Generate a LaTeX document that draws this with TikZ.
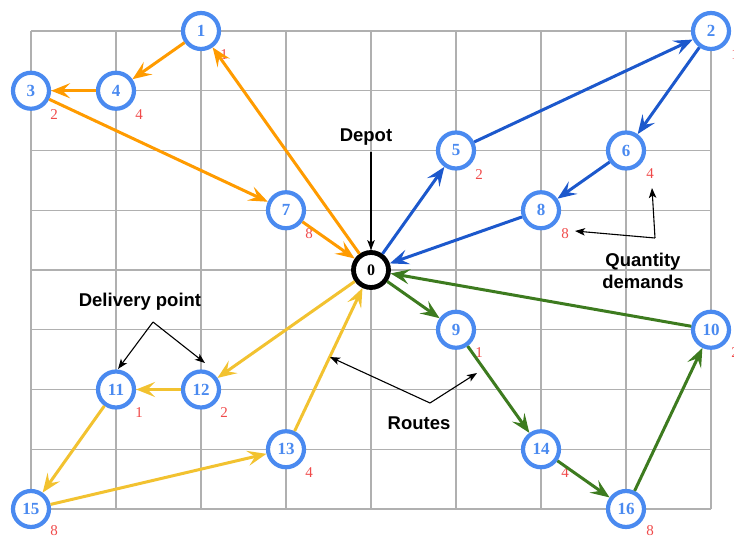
\documentclass[tikz,border=0pt]{standalone}
\usepackage{fontspec}
\setmainfont{Liberation Serif}
\setsansfont{Liberation Sans}
\usetikzlibrary{arrows.meta}
\definecolor{gridc}{HTML}{B0B0B0}
\definecolor{nodeblue}{HTML}{4A8AF0}
\definecolor{demred}{HTML}{F04A4A}
\definecolor{rorange}{HTML}{FF9B00}
\definecolor{rblue}{HTML}{1C58CC}
\definecolor{ryellow}{HTML}{F2C230}
\definecolor{rgreen}{HTML}{3D7B1F}
\begin{document}
\begin{tikzpicture}[x=1pt,y=-1pt,
  gridline/.style={draw=gridc, line width=1.4pt},
  cust/.style={circle, draw=nodeblue, line width=4.2pt, fill=white, minimum size=36pt, inner sep=0pt,
    font=\fontsize{17}{17}\selectfont\bfseries, text=nodeblue},
  depot/.style={circle, draw=black, line width=4.8pt, fill=white, minimum size=35pt, inner sep=0pt,
    font=\fontsize{16}{16}\selectfont\bfseries, text=black},
  dem/.style={font=\fontsize{15}{15}\selectfont, text=demred, inner sep=1pt},
  route/.style={line width=3pt, -{Stealth[length=19pt,width=15pt,inset=7.5pt]}},
  orr/.style={route, draw=rorange, color=rorange},
  blr/.style={route, draw=rblue, color=rblue},
  yer/.style={route, draw=ryellow, color=ryellow},
  grr/.style={route, draw=rgreen, color=rgreen},
  ann/.style={draw=black, line width=1.1pt, -{Stealth[length=10pt,width=7.5pt,inset=2.5pt]}},
  lab/.style={font=\sffamily\bfseries\fontsize{18.5}{22}\selectfont, text=black, align=center, inner sep=0pt}
]
\useasboundingbox (0,0) rectangle (734,536);
% grid
\foreach \i in {0,...,8} {
  \draw[gridline] ({31+85*\i},31) -- ({31+85*\i},509);
  \draw[gridline] (31,{31+59.75*\i}) -- (711,{31+59.75*\i});
}
% nodes
\node[depot] (n0) at (371,270) {0};
\node[cust] (n1) at (201,31) {1};
\node[cust] (n2) at (711,31) {2};
\node[cust] (n3) at (31,90.75) {3};
\node[cust] (n4) at (116,90.75) {4};
\node[cust] (n5) at (456,150.5) {5};
\node[cust] (n6) at (626,150.5) {6};
\node[cust] (n7) at (286,210.25) {7};
\node[cust] (n8) at (541,210.25) {8};
\node[cust] (n9) at (456,329.75) {9};
\node[cust] (n10) at (711,329.75) {10};
\node[cust] (n11) at (116,389.5) {11};
\node[cust] (n12) at (201,389.5) {12};
\node[cust] (n13) at (286,449.25) {13};
\node[cust] (n14) at (541,449.25) {14};
\node[cust] (n15) at (31,509) {15};
\node[cust] (n16) at (626,509) {16};
% demands
\node[dem] (d1) at (224,55) {1};
\node[dem] (d2) at (735,55) {1};
\node[dem] (d3) at (54,114.5) {2};
\node[dem] (d4) at (139,114.5) {4};
\node[dem] (d5) at (479,174.5) {2};
\node[dem] (d6) at (650,174) {4};
\node[dem] (d7) at (309,234) {8};
\node[dem] (d8) at (565,233.5) {8};
\node[dem] (d9) at (479,353) {1};
\node[dem] (d10) at (735,353) {2};
\node[dem] (d11) at (139,413) {1};
\node[dem] (d12) at (224,413) {2};
\node[dem] (d13) at (309,472.5) {4};
\node[dem] (d14) at (565,472.5) {4};
\node[dem] (d15) at (54,531) {8};
\node[dem] (d16) at (650,531) {8};
% routes
\draw[orr] (n0) -- (n1);
\draw[orr] (n1) -- (n4);
\draw[orr] (n4) -- (n3);
\draw[orr] (n3) -- (n7);
\draw[orr] (n7) -- (n0);
\draw[blr] (n0) -- (n5);
\draw[blr] (n5) -- (n2);
\draw[blr] (n2) -- (n6);
\draw[blr] (n6) -- (n8);
\draw[blr] (n8) -- (n0);
\draw[grr] (n0) -- (n9);
\draw[grr] (n9) -- (n14);
\draw[grr] (n14) -- (n16);
\draw[grr] (n16) -- (n10);
\draw[grr] (n10) -- (n0);
\draw[yer] (n0) -- (n12);
\draw[yer] (n12) -- (n11);
\draw[yer] (n11) -- (n15);
\draw[yer] (n15) -- (n13);
\draw[yer] (n13) -- (n0);
% annotations
\node[lab] (tdepot) at (366,137) {Depot};
\coordinate (cdepot) at (371,152);
\draw[ann] (cdepot) -- (n0);

\node[lab] (tqty) at (643,271) {Quantity\\demands};
\coordinate (cqty) at (655,238);
\coordinate (eqa) at (652,188);
\coordinate (eqb) at (575,231);
\draw[ann] (cqty) -- (eqa);
\draw[ann] (cqty) -- (eqb);

\node[lab] (tdel) at (140,302) {Delivery point};
\coordinate (cdel) at (153,322);
\coordinate (edela) at (118,369);
\coordinate (edelb) at (205,363);
\draw[ann] (cdel) -- (edela);
\draw[ann] (cdel) -- (edelb);

\node[lab] (trou) at (419,423) {Routes};
\coordinate (crou) at (430,403);
\coordinate (eroua) at (330,357);
\coordinate (eroub) at (477,373);
\draw[ann] (crou) -- (eroua);
\draw[ann] (crou) -- (eroub);
\end{tikzpicture}
\end{document}
